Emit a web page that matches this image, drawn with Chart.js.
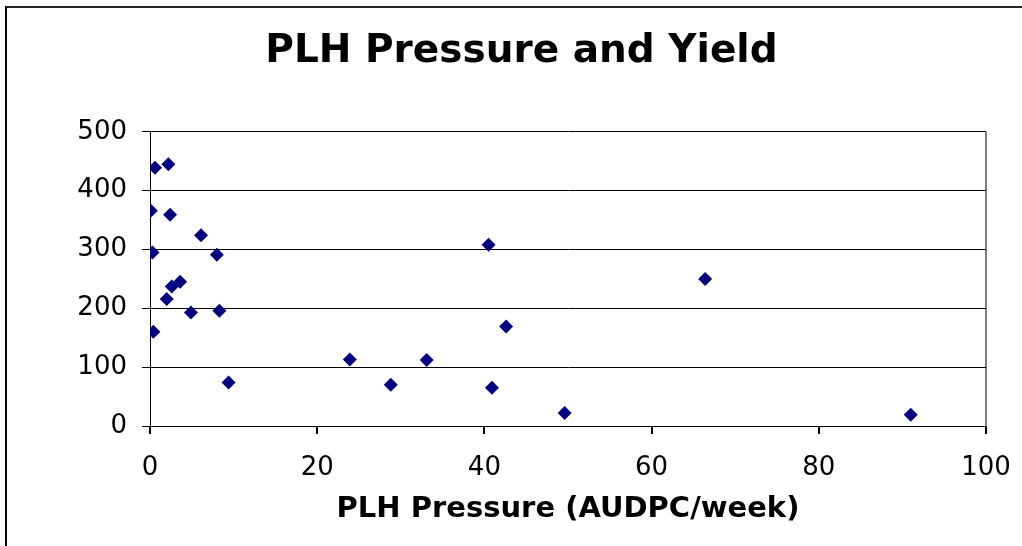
<!DOCTYPE html>
<html>
<head>
<meta charset="utf-8">
<script src="https://cdn.jsdelivr.net/npm/chart.js@4.4.1/dist/chart.umd.min.js"></script>
<style>
  html, body { margin: 0; padding: 0; background: #fff; overflow: hidden; }
  #wrap { position: relative; width: 1022px; height: 546px; overflow: hidden; }
  #frame {
    position: absolute; left: 5px; top: 6px; width: 1040px; height: 560px;
    border-left: 2px solid #000; border-top: 2px solid #222;
    pointer-events: none;
  }
  canvas { position: absolute; left: 0; top: 0; }
</style>
</head>
<body>
<div id="wrap">
  <canvas id="plhChart" width="1030" height="546" style="width:1030px;height:546px"></canvas>
  <div id="frame"></div>
</div>
<script>
// PLH pressure (AUDPC/week) against yield
const pressure = [
  0.6, 2.2, 0.1, 2.4, 6.1, 0.3, 8.0, 3.6, 2.6, 2.0, 4.9, 8.3,
  0.4, 9.4, 40.5, 42.6, 23.9, 33.1, 28.8, 40.9, 49.6, 66.4, 91.0,
];
const yieldValues = [
  439, 445, 366, 359, 324, 295, 291, 245, 237, 216, 193, 196,
  160, 74, 308, 169, 113, 112, 70, 65, 22, 250, 19,
];
const xTicks = [0, 20, 40, 60, 80, 100];
const yTicks = [0, 100, 200, 300, 400, 500];

const points = pressure.map((x, i) => ({ x, y: yieldValues[i] }));

Chart.defaults.font.family = "'DejaVu Sans', Verdana, sans-serif";
Chart.defaults.color = "#000";

const ctx = document.getElementById("plhChart").getContext("2d");
new Chart(ctx, {
  type: "scatter",
  data: {
    datasets: [
      {
        label: "Yield",
        data: points,
        pointStyle: "rectRot",
        pointRadius: 7,
        pointHoverRadius: 7,
        backgroundColor: "#000080",
        borderColor: "#000080",
        borderWidth: 0,
      },
    ],
  },
  options: {
    responsive: false,
    animation: false,
    events: [],
    // left padding shifts the title so it sits centred like the original
    layout: { padding: { left: 57, right: 44, top: 0, bottom: 0 } },
    plugins: {
      legend: { display: false },
      tooltip: { enabled: false },
      title: {
        display: true,
        text: "PLH Pressure and Yield",
        color: "#000",
        font: { size: 39, weight: "bold" },
        padding: { top: 28, bottom: 57 },
      },
    },
    scales: {
      x: {
        type: "linear",
        min: xTicks[0],
        max: xTicks[xTicks.length - 1],
        afterBuildTicks: (s) => { s.ticks = xTicks.map((v) => ({ value: v })); },
        afterFit: (s) => { s.height = 120; },
        ticks: { font: { size: 26 }, padding: 19, maxRotation: 0 },
        grid: {
          drawOnChartArea: true,
          color: (c) => (c.tick && c.tick.value === 100 ? "#808080" : "rgba(0,0,0,0)"),
          tickColor: "#000",
          tickLength: 8,
          lineWidth: 2,
        },
        border: { color: "#000", width: 1 },
        title: {
          display: true,
          text: "PLH Pressure (AUDPC/week)",
          color: "#000",
          font: { size: 29, weight: "bold" },
          padding: { top: 0, bottom: 19 },
        },
      },
      y: {
        type: "linear",
        min: yTicks[0],
        max: yTicks[yTicks.length - 1],
        afterBuildTicks: (s) => { s.ticks = yTicks.map((v) => ({ value: v })); },
        afterFit: (s) => { s.width = 93; },
        ticks: { font: { size: 26 }, padding: 15 },
        grid: { color: "#000", tickColor: "#000", tickLength: 8 },
        border: { color: "#000", width: 1 },
      },
    },
  },
});
</script>
</body>
</html>
